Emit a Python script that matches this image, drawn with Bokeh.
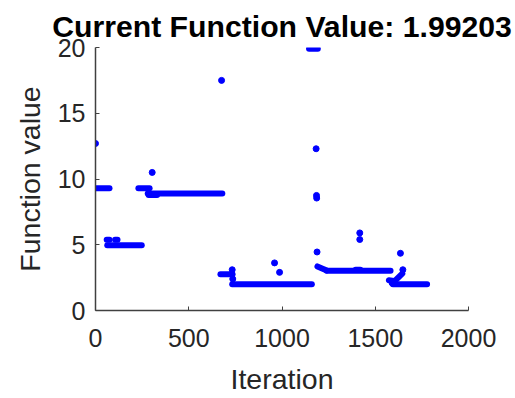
from bokeh.plotting import figure
from bokeh.models import Range1d, FixedTicker
from bokeh.embed import file_html
from bokeh.resources import INLINE

# Runs of consecutive iterations (drawn as dense runs of dots)
seg_start_iter  = [0,   60,   105,  63,   230, 285,  280, 670,  733, 1145,  1190, 1240, 1573, 1590, 1595, 1395]
seg_end_iter    = [75,  75,   118,  248,  290, 330,  680, 735,  1160, 1192, 1240, 1582, 1600, 1645, 1778, 1420]
seg_start_value = [9.3, 5.38, 5.38, 4.97, 9.3, 8.78, 8.9, 2.75, 2.0, 19.9,  3.35, 3.03, 2.3,  2.05, 2.0,  3.1]
seg_end_value   = [9.3, 5.38, 5.38, 4.97, 9.3, 8.78, 8.9, 2.75, 2.0, 19.9,  3.05, 3.03, 2.25, 2.8,  1.99203, 3.1]

# Isolated iterations
pt_iter  = [0,    304,  676,  733, 736, 960,  987, 1183, 1185, 1186, 1188, 1417, 1417, 1635, 1648]
pt_value = [12.7, 10.5, 17.5, 3.1, 2.4, 3.62, 2.9, 12.3, 8.75, 8.55, 4.45, 5.9,  5.4,  4.35, 3.1]

x_ticks = [0, 500, 1000, 1500, 2000]
y_ticks = [0, 5, 10, 15, 20]
title_text = "Current Function Value: 1.99203"

p = figure(width=514, height=397, output_backend="svg", toolbar_location=None,
           x_range=Range1d(0, 2000), y_range=Range1d(0, 20),
           min_border_left=95, min_border_right=46, min_border_top=47, min_border_bottom=86,
           title=title_text)

blue = "#0000ff"
p.segment(x0=seg_start_iter, y0=seg_start_value, x1=seg_end_iter, y1=seg_end_value,
          line_color=blue, line_width=6, line_cap="round")
p.scatter(x=pt_iter, y=pt_value, size=6, fill_color=blue, line_color=blue)

p.title.text_font = "Liberation Sans"
p.title.text_font_size = "30.2px"
p.title.text_font_style = "bold"
p.title.text_color = "black"
p.title.align = "center"
p.title.text_line_height = 0.7
p.title.standoff = 9

p.xgrid.visible = False
p.ygrid.visible = False
p.outline_line_color = None
p.background_fill_color = "white"
p.border_fill_color = "white"

p.xaxis.ticker = FixedTicker(ticks=x_ticks)
p.yaxis.ticker = FixedTicker(ticks=y_ticks)
p.xaxis.axis_label = "Iteration"
p.yaxis.axis_label = "Function value"

for ax in (p.xaxis[0], p.yaxis[0]):
    ax.axis_line_color = "#404040"
    ax.axis_line_width = 1.5
    ax.major_tick_line_color = "#404040"
    ax.major_tick_in = 4
    ax.major_tick_out = 0
    ax.minor_tick_line_color = None
    ax.major_label_text_font = "Liberation Sans"
    ax.major_label_text_font_size = "25px"
    ax.major_label_text_color = "#262626"
    ax.axis_label_text_font = "Liberation Sans"
    ax.axis_label_text_font_size = "28.5px"
    ax.axis_label_text_font_style = "normal"
    ax.axis_label_text_color = "#262626"

p.xaxis.major_label_standoff = 18
p.xaxis.axis_label_standoff = 13
p.yaxis.major_label_standoff = 10
p.yaxis.axis_label_standoff = 9

open("out.html", "w").write(file_html(p, INLINE))
